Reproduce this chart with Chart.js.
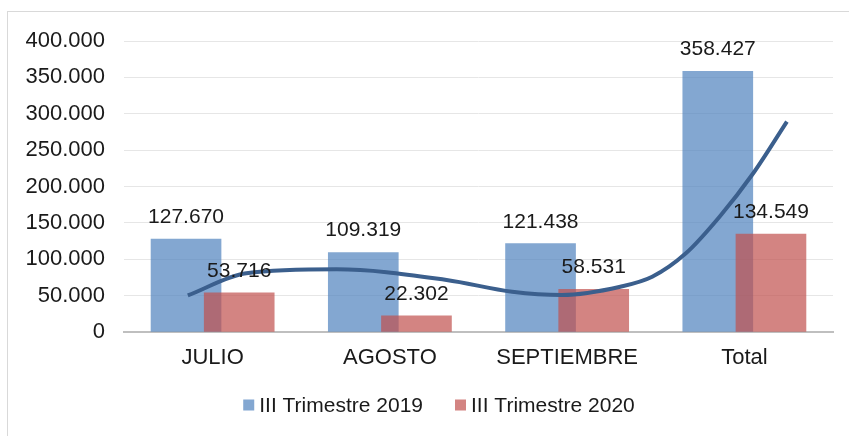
<!DOCTYPE html>
<html>
<head>
<meta charset="utf-8">
<script src="https://cdn.jsdelivr.net/npm/chart.js@4/dist/chart.umd.min.js"></script>
<style>
  html, body { margin: 0; padding: 0; background: #fff; }
  #wrap { position: relative; width: 849px; height: 436px; overflow: hidden; }
  #frame { position: absolute; left: 7px; top: 11px; width: 900px; height: 500px; border: 1px solid #d9d9d9; }
  canvas { position: absolute; left: 0; top: 0; }
</style>
</head>
<body>
<div id="wrap">
  <div id="frame"></div>
  <canvas id="chart" width="849" height="436"></canvas>
</div>
<script>
const months = ["JULIO", "AGOSTO", "SEPTIEMBRE", "Total"];
const q3_2019 = [127670, 109319, 121438, 358427];
const q3_2020 = [53716, 22302, 58531, 134549];
// trend curve (position in category units, value)
const trendAt = [-0.14, 0.19, 0.70, 1.32, 1.69, 1.97, 2.30, 2.48, 2.67, 2.86, 3.05, 3.24];
const trendVal = [50200, 80700, 86200, 71500, 55400, 50900, 62300, 76000, 108200, 158500, 218200, 289200];
const yMax = 400000;
const yStep = 50000;

const SHIFT = 0.15;
const FAMILY = "'Liberation Sans', Arial, sans-serif";
const TEXT = "#1a1a1a";

const fmt = v => String(v).replace(/\B(?=(\d{3})+(?!\d))/g, ".");

// value labels over each bar
const barLabels = {
  id: "barLabels",
  afterDatasetsDraw(chart) {
    const ctx = chart.ctx;
    ctx.save();
    ctx.font = "21px " + FAMILY;
    ctx.fillStyle = TEXT;
    ctx.textAlign = "center";
    ctx.textBaseline = "alphabetic";
    chart.data.datasets.forEach((ds, i) => {
      if (ds.type !== "bar") return;
      chart.getDatasetMeta(i).data.forEach((bar, j) => {
        ctx.fillText(fmt(ds.data[j].y), bar.x, bar.y - 16);
      });
    });
    ctx.restore();
  }
};

// one-row legend under the axis, centred a bit right of the canvas middle like the original
const legendRow = {
  id: "legendRow",
  afterDraw(chart) {
    const ctx = chart.ctx;
    const items = chart.data.datasets.filter(ds => ds.type === "bar");
    const box = 11, gapText = 5, gapItem = 32, centerX = 439, y = 405;
    ctx.save();
    ctx.font = "21px " + FAMILY;
    ctx.textBaseline = "middle";
    ctx.textAlign = "left";
    const widths = items.map(ds => box + gapText + ctx.measureText(ds.label).width);
    const total = widths.reduce((a, b) => a + b, 0) + gapItem * (items.length - 1);
    let x = centerX - total / 2;
    items.forEach((ds, i) => {
      ctx.fillStyle = ds.backgroundColor;
      ctx.fillRect(x, y - box / 2, box, box);
      ctx.fillStyle = TEXT;
      ctx.fillText(ds.label, x + box + gapText, y + 1);
      x += widths[i] + gapItem;
    });
    ctx.restore();
  }
};

new Chart(document.getElementById("chart").getContext("2d"), {
  data: {
    labels: months,
    datasets: [
      {
        type: "bar",
        label: "III Trimestre 2019",
        data: q3_2019.map((v, i) => ({ x: i - SHIFT, y: v })),
        backgroundColor: "rgba(79,129,189,0.7)",
        borderWidth: 0,
        barThickness: 70,
        grouped: false,
        xAxisID: "xl",
        order: 2
      },
      {
        type: "bar",
        label: "III Trimestre 2020",
        data: q3_2020.map((v, i) => ({ x: i + SHIFT, y: v })),
        backgroundColor: "rgba(192,80,77,0.7)",
        borderWidth: 0,
        barThickness: 70,
        grouped: false,
        xAxisID: "xl",
        order: 1
      },
      {
        type: "line",
        label: "Tendencia",
        data: trendAt.map((x, i) => ({ x, y: trendVal[i] })),
        borderColor: "#3b5f8d",
        borderWidth: 4,
        pointRadius: 0,
        cubicInterpolationMode: "monotone",
        fill: false,
        xAxisID: "xl",
        order: 0
      }
    ]
  },
  options: {
    responsive: false,
    animation: false,
    layout: { padding: { top: 41, right: 16, bottom: 72, left: 0 } },
    scales: {
      x: {
        type: "category",
        labels: months,
        offset: true,
        grid: { display: false, drawTicks: false },
        border: { color: "#bfbfbf", width: 2 },
        ticks: { color: TEXT, font: { family: FAMILY, size: 22 }, padding: 13 },
        afterFit: s => { s.height = 32; }
      },
      xl: { type: "linear", display: false, offset: false, min: -0.5, max: 3.5 },
      y: {
        min: 0,
        max: yMax,
        ticks: { stepSize: yStep, callback: fmt, color: TEXT, font: { family: FAMILY, size: 22 }, padding: 19 },
        grid: { color: "#e6e6e6", drawTicks: false },
        border: { display: false },
        afterFit: s => { s.width = 124; }
      }
    },
    plugins: {
      legend: { display: false },
      tooltip: { enabled: false }
    }
  },
  plugins: [barLabels, legendRow]
});
</script>
</body>
</html>
